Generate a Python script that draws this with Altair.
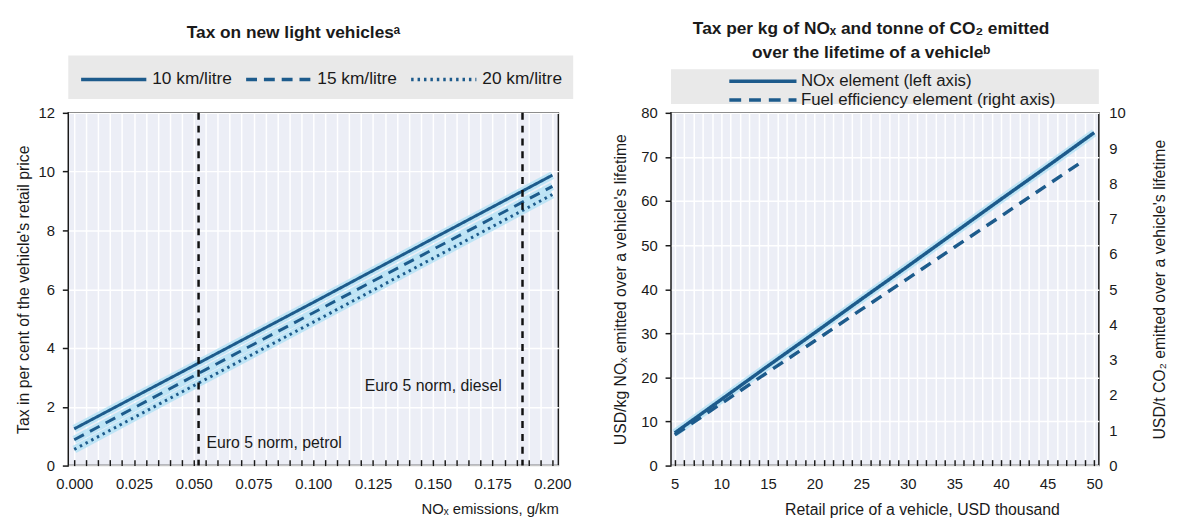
import altair as alt
import pandas as pd

FONT = "Liberation Sans, Arial, sans-serif"
LINE = "#1d5b8c"
HALO = "#b3e1f5"

# ---------------- Left panel: tax on new light vehicles ----------------
nox_emissions = [0.0, 0.05, 0.10, 0.15, 0.20]
tax_10 = [1.25, 3.40, 5.55, 7.72, 9.88]
tax_15 = [0.88, 3.05, 5.20, 7.35, 9.50]
tax_20 = [0.55, 2.72, 4.88, 7.05, 9.22]
series_left = ["10 km/litre", "15 km/litre", "20 km/litre"]

norm_x = [0.052, 0.1875]
norm_labels = ["Euro 5 norm, petrol", "Euro 5 norm, diesel"]
norm_label_y = [0.77, 2.69]

# ---------------- Right panel: tax per kg NOx / tonne CO2 ----------------
price_nox = [5, 10, 15, 20, 25, 30, 35, 40, 45, 50]
nox_element = [7.4, 15.0, 22.6, 30.1, 37.7, 45.2, 52.8, 60.4, 67.9, 75.5]
price_fuel = [5, 10, 15, 20, 25, 30, 35, 40, 45, 49]
fuel_element = [0.87, 1.76, 2.65, 3.53, 4.42, 5.30, 6.19, 7.07, 7.96, 8.67]
series_right = ["NOx element (left axis)", "Fuel efficiency element (right axis)"]

# ---------- tables ----------
rows = []
for s, vals in zip(series_left, [tax_10, tax_15, tax_20]):
    for x, v in zip(nox_emissions, vals):
        rows.append({"nox": x, "tax": v, "series_l": s})
df_left = pd.DataFrame(rows)
df_norm = pd.DataFrame({"nox": norm_x, "label": norm_labels, "tax": norm_label_y})

df_nox = pd.DataFrame({"price": price_nox, "val": nox_element, "series_r": series_right[0]})
df_fuel = pd.DataFrame({"price": price_fuel, "val": fuel_element, "series_r": series_right[1]})
df_band = pd.DataFrame({"a": [0]})

W_L, W_R, H = 496, 433, 357

x_left_ticks = [round(i * 0.005, 3) for i in range(41)]
x_right_ticks = list(range(5, 51))

x_left = alt.X(
    "nox:Q",
    scale=alt.Scale(domain=[-0.0025, 0.2025], nice=False, zero=False),
    axis=alt.Axis(
        values=x_left_ticks,
        labelExpr="round(datum.value*1000) % 25 == 0 ? format(datum.value, '.3f') : ''",
        grid=True, gridColor="white", gridWidth=1.5,
        tickSize=6, tickColor="#1a1a1a", tickWidth=1.5, offset=-6, domain=False,
        labelPadding=11, labelFontSize=15, labelOverlap=False, labelFlush=False,
        title="NOₓ emissions, g/km", titleAnchor="end", titleFontSize=15, titlePadding=11,
    ),
)
y_left = alt.Y(
    "tax:Q",
    scale=alt.Scale(domain=[0, 12], nice=False),
    axis=alt.Axis(
        values=list(range(0, 13, 2)), grid=True, gridColor="white", gridWidth=1.5,
        tickSize=6, tickColor="#1a1a1a", tickWidth=1.5, domain=False,
        labelPadding=8, labelFontSize=15,
        title="Tax in per cent of the vehicle's retail price", titleFontSize=16, titlePadding=7,
    ),
)

legend_l = alt.Legend(
    title=None, orient="none", direction="horizontal", legendX=0, legendY=-58,
    fillColor="#e9e9e9", padding=11, columnPadding=7,
    symbolType="M-3,0H3", symbolSize=484, symbolOffset=22, labelOffset=26,
    symbolStrokeWidth=3.5, labelLimit=500,
    labelFontSize=17.5, labelFont=FONT, labelColor="#1a1a1a",
)
color_l = alt.Color(
    "series_l:N", scale=alt.Scale(domain=series_left, range=[LINE, LINE, LINE]), legend=legend_l
)
dash_l = alt.StrokeDash(
    "series_l:N", scale=alt.Scale(domain=series_left, range=[[1, 0], [11, 7], [2.5, 4]]), legend=legend_l
)

halo_l = alt.Chart(df_left).mark_line(color=HALO, strokeWidth=8, opacity=0.8).encode(
    x=x_left, y=y_left, detail="series_l:N"
)
lines_l = alt.Chart(df_left).mark_line(strokeWidth=3).encode(
    x=x_left, y=y_left, color=color_l, strokeDash=dash_l
)
rules_l = alt.Chart(df_norm).mark_rule(color="#111111", strokeWidth=2.5, strokeDash=[7, 6]).encode(
    x=x_left
)
txt_petrol = alt.Chart(df_norm).transform_filter(alt.datum.nox < 0.1).mark_text(
    align="left", baseline="middle", dx=8, fontSize=16, font=FONT, color="#1a1a1a"
).encode(x=x_left, y=y_left, text="label:N")
txt_diesel = alt.Chart(df_norm).transform_filter(alt.datum.nox > 0.1).mark_text(
    align="right", baseline="middle", dx=-21, fontSize=16, font=FONT, color="#1a1a1a"
).encode(x=x_left, y=y_left, text="label:N")

left = alt.layer(halo_l, lines_l, rules_l, txt_petrol, txt_diesel).properties(
    width=W_L, height=H,
    title=alt.TitleParams(
        "Tax on new light vehiclesᵃ", fontSize=17.5, font=FONT, fontWeight="bold",
        anchor="middle", dx=-20, offset=14, color="#1a1a1a",
    ),
)

# ---------------- right panel ----------------
x_right = alt.X(
    "price:Q",
    scale=alt.Scale(domain=[4.6, 50.5], nice=False, zero=False),
    axis=alt.Axis(
        values=x_right_ticks,
        labelExpr="datum.value % 5 == 0 ? datum.label : ''",
        grid=True, gridColor="white", gridWidth=1.5,
        tickSize=6, tickColor="#1a1a1a", tickWidth=1.5, offset=-6, domain=False,
        labelPadding=11, labelFontSize=15, labelOverlap=False, labelFlush=False,
        title="Retail price of a vehicle, USD thousand", titleFontSize=16, titlePadding=11,
        titleX=254, titleAnchor="middle",
    ),
)
y_right_left = alt.Y(
    "val:Q",
    scale=alt.Scale(domain=[0, 80], nice=False),
    axis=alt.Axis(
        orient="left", values=list(range(0, 81, 10)), grid=True, gridColor="white", gridWidth=1.5,
        tickSize=6, tickColor="#1a1a1a", tickWidth=1.5, domain=False,
        labelPadding=8, labelFontSize=15,
        title="USD/kg NOₓ emitted over a vehicle's lifetime", titleFontSize=16, titlePadding=12,
    ),
)
y_right_right = alt.Y(
    "val:Q",
    scale=alt.Scale(domain=[0, 10], nice=False),
    axis=alt.Axis(
        orient="right", values=list(range(0, 11)), grid=False, ticks=False, domain=False,
        labelPadding=10, labelFontSize=15,
        title="USD/t CO₂ emitted over a vehicle's lifetime", titleFontSize=16, titlePadding=43,
        titleAngle=270,
    ),
)

legend_r = alt.Legend(
    title=None, orient="none", direction="vertical", legendX=57, legendY=-42.5,
    padding=0, rowPadding=-4,
    symbolType="M-4,0H4", symbolSize=289, symbolOffset=25.5, labelOffset=28,
    symbolStrokeWidth=3.5, labelLimit=500,
    labelFontSize=17, labelFont=FONT, labelColor="#1a1a1a",
)
color_r = alt.Color("series_r:N", scale=alt.Scale(domain=series_right, range=[LINE, LINE]), legend=legend_r)
dash_r = alt.StrokeDash("series_r:N", scale=alt.Scale(domain=series_right, range=[[1, 0], [12, 8]]), legend=legend_r)

band = alt.Chart(df_band).mark_rect(color="#e9e9e9").encode(
    x=alt.value(0), x2=alt.value(W_R), y=alt.value(-44), y2=alt.value(-9)
)
nox_layer = alt.layer(
    alt.Chart(df_nox).mark_line(color=HALO, strokeWidth=8, opacity=0.8).encode(x=x_right, y=y_right_left),
    alt.Chart(df_nox).mark_line(strokeWidth=3.5).encode(
        x=x_right, y=y_right_left, color=color_r, strokeDash=dash_r
    ),
)
fuel_layer = alt.layer(
    alt.Chart(df_fuel).mark_line(strokeWidth=3.5).encode(
        x=x_right, y=y_right_right, color=color_r, strokeDash=dash_r
    ),
)
right = alt.layer(band, nox_layer, fuel_layer).resolve_scale(y="independent").properties(
    width=W_R, height=H,
    title=alt.TitleParams(
        ["Tax per kg of NOₓ and tonne of CO₂ emitted", "over the lifetime of a vehicleᵇ"],
        fontSize=17.5, font=FONT, fontWeight="bold", anchor="middle", dx=-14, offset=8,
        lineHeight=24, color="#1a1a1a",
    ),
)

chart = alt.hconcat(left, right, spacing=114, bounds="flush").resolve_scale(
    color="independent", strokeDash="independent"
).resolve_legend(color="independent", strokeDash="independent").properties(
    padding={"left": 6, "top": 8, "right": 0, "bottom": 0}
).configure_view(
    fill="#eceef6", stroke="#1a1a1a", strokeWidth=1.5
).configure_axis(
    labelFont=FONT, titleFont=FONT, labelColor="#1a1a1a", titleColor="#1a1a1a",
    titleFontWeight="normal",
)

chart.save("out.html", embed_options={"renderer": "svg", "actions": False})
